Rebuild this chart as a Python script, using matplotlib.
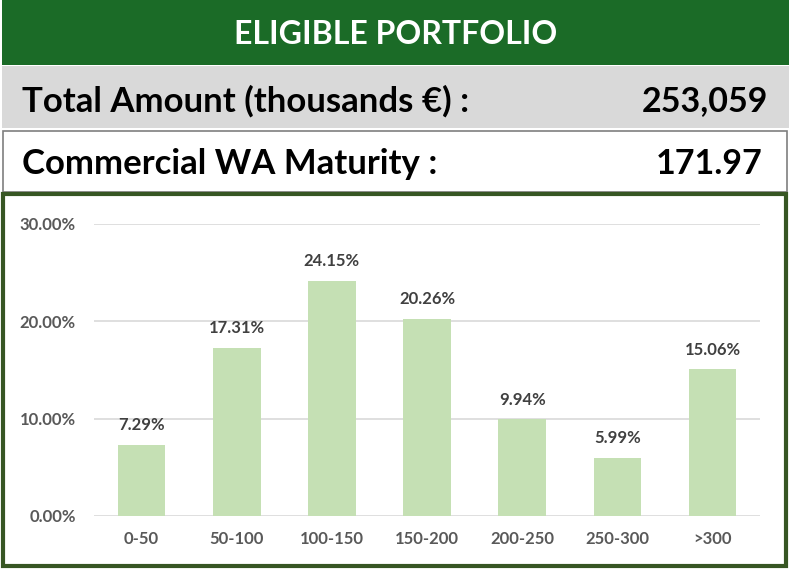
import matplotlib
matplotlib.use("Agg")
import matplotlib.pyplot as plt
from matplotlib.patches import Rectangle

# data
categories = ["0-50", "50-100", "100-150", "150-200", "200-250", "250-300", ">300"]
shares = [7.29, 17.31, 24.15, 20.26, 9.94, 5.99, 15.06]
title = "ELIGIBLE PORTFOLIO"
total_label = "Total Amount (thousands €) :"
total_value = "253,059"
maturity_label = "Commercial WA Maturity :"
maturity_value = "171.97"

W, H = 789, 569
plt.rcParams["font.family"] = ["Lato", "DejaVu Sans"]

fig = plt.figure(figsize=(W / 100, H / 100), dpi=100)


def px(x, y):
    return x / W, 1 - y / H


def box(x0, y0, x1, y1, **kw):
    fx, fy = px(x0, y1)
    fig.patches.append(Rectangle((fx, fy), (x1 - x0) / W, (y1 - y0) / H,
                                 transform=fig.transFigure, zorder=0, **kw))


# header blocks
box(2, 0, 789, 65, facecolor="#1b6b27", edgecolor="none")
box(2, 66, 789, 128, facecolor="#d9d9d9", edgecolor="none")
box(3, 131, 787, 192, facecolor="white", edgecolor="#7f7f7f", linewidth=1.2)
box(3, 194, 786, 566, facecolor="white", edgecolor="#375623", linewidth=3)

fig.text(*px(396, 35), title, color="white", fontsize=23, fontweight="bold",
         ha="center", va="center")
fig.text(*px(22, 101), total_label, color="black", fontsize=25,
         fontweight="bold", ha="left", va="center")
fig.text(*px(768, 101), total_value, color="black", fontsize=24.5,
         fontweight="bold", ha="right", va="center")
fig.text(*px(22, 164), maturity_label, color="black", fontsize=25,
         fontweight="bold", ha="left", va="center")
fig.text(*px(763, 164), maturity_value, color="black", fontsize=24.5,
         fontweight="bold", ha="right", va="center")

# chart
ax = fig.add_axes([94 / W, 1 - 516 / H, (760 - 94) / W, (516 - 224) / H])
ax.set_zorder(2)
ax.set_facecolor("none")
x = range(len(categories))
bars = ax.bar(x, shares, width=0.5, color="#c5e0b4", zorder=2)
for b, v in zip(bars, shares):
    ax.text(b.get_x() + b.get_width() / 2, v + 1.2, f"{v:.2f}%",
            ha="center", va="bottom", fontsize=12, fontweight="bold",
            color="#404040")

ax.set_xlim(-0.5, len(categories) - 0.5)
ax.set_ylim(0, 30)
ax.set_yticks([0, 10, 20, 30])
ax.set_yticklabels([f"{t:.2f}%" for t in [0, 10, 20, 30]])
ax.set_xticks(list(x))
ax.set_xticklabels(categories)
ax.yaxis.grid(True, color="#d9d9d9", linewidth=1.2, zorder=0)
for s in ax.spines.values():
    s.set_visible(False)
ax.tick_params(length=0, labelsize=12, colors="#595959")
ax.tick_params(axis="x", pad=11)
ax.tick_params(axis="y", pad=13)
for lab in ax.get_xticklabels() + ax.get_yticklabels():
    lab.set_fontweight("bold")

fig.savefig("out.png", dpi=100)
